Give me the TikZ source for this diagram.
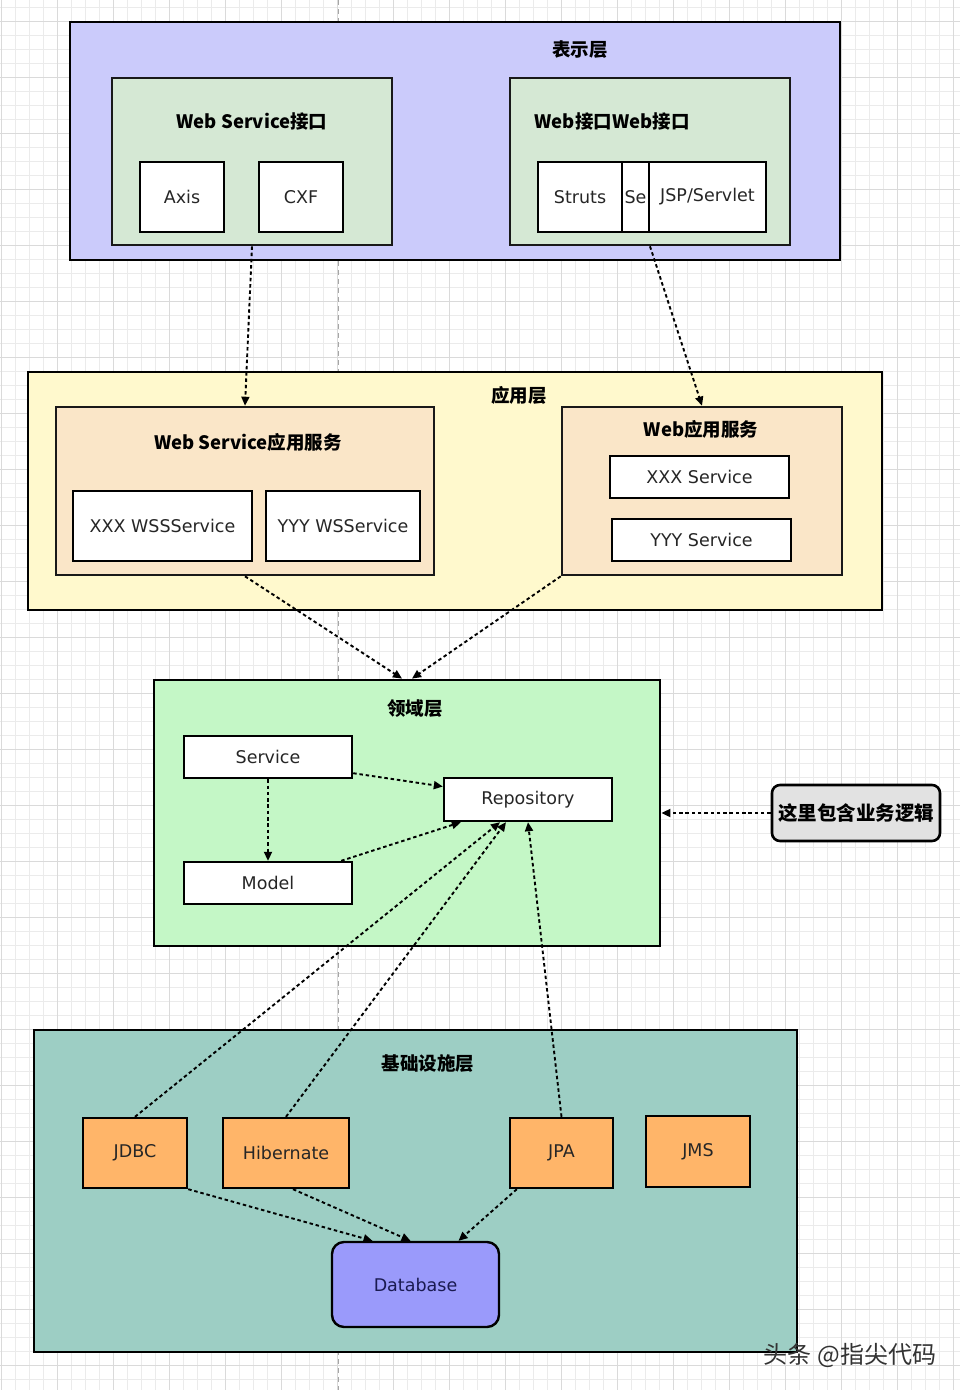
\documentclass[tikz,border=0pt]{standalone}
\usepackage{fontspec}
\setmainfont{DejaVu Sans}
\newfontfamily\cjk{Noto Sans CJK SC}
\usetikzlibrary{arrows.meta}
\definecolor{cpres}{HTML}{CBCBFB}
\definecolor{cinner}{HTML}{D5E8D4}
\definecolor{capp}{HTML}{FFF9CD}
\definecolor{cpeach}{HTML}{FAE6C8}
\definecolor{cdom}{HTML}{C4F7C6}
\definecolor{cinfra}{HTML}{9DCEC4}
\definecolor{corange}{HTML}{FFB569}
\definecolor{cdb}{HTML}{9A9AFB}
\definecolor{cnote}{HTML}{E2E2E2}
\definecolor{gminor}{HTML}{EBEBEB}
\definecolor{gmajor}{HTML}{DADADA}
\definecolor{navy}{HTML}{1A1A50}
\tikzset{
  layer/.style={draw=black, line width=2.8pt, inner sep=0pt},
  sub/.style={draw=black!90, line width=2.6pt, inner sep=0pt},
  item/.style={draw=black, line width=2.4pt, fill=white, inner sep=0pt, text=black!85, font=\fontsize{17.5}{19}\selectfont},
  ttl/.style={inner sep=0pt, font=\cjk\bfseries\fontsize{18.5}{21}\selectfont},
  conn/.style={line width=1.9pt, dash pattern=on 3.5pt off 2.8pt, -{Triangle[length=9pt,width=8pt]}},
}
\begin{document}
\begin{tikzpicture}[x=1pt,y=-1pt]
\useasboundingbox (0,0) rectangle (960,1390);
\fill[white] (0,0) rectangle (960,1390);
% grid
\foreach \i in {0,...,68} \draw[gminor, line width=0.6pt] (1+14*\i,0) -- (1+14*\i,1390);
\foreach \j in {0,...,99} \draw[gminor, line width=0.6pt] (0,7+14*\j) -- (960,7+14*\j);
\foreach \i in {0,...,17} \draw[gmajor, line width=0.8pt] (1+56*\i,0) -- (1+56*\i,1390);
\foreach \j in {0,...,24} \draw[gmajor, line width=0.8pt] (0,21+56*\j) -- (960,21+56*\j);
\draw[gray!70, line width=0.8pt, dash pattern=on 5pt off 4pt] (338,0) -- (338,1390);

% ===== presentation layer
\node[layer, fill=cpres, minimum width=770pt, minimum height=238pt] (pres) at (455,141) {};
\node[ttl] (tpres) at (580,50) {表示层};
\node[sub, fill=cinner, minimum width=280pt, minimum height=167pt] (wsi) at (252,161.5) {};
\node[ttl] (twsi) at (252,121) {Web Service接口};
\node[item, minimum width=84pt, minimum height=70pt] (axis) at (182,197) {Axis};
\node[item, minimum width=84pt, minimum height=70pt] (cxf) at (301,197) {CXF};
\node[sub, fill=cinner, minimum width=280pt, minimum height=167pt] (webi) at (650,161.5) {};
\node[ttl] (twebi) at (612,121) {Web接口Web接口};
\node[item, minimum width=84pt, minimum height=70pt] (struts) at (580,197) {Struts};
\node[item, minimum width=27pt, minimum height=70pt] (se) at (635.5,197) {Se};
\node[item, minimum width=117pt, minimum height=70pt] (jsp) at (707.5,197) {JSP/Servlet};

% ===== application layer
\node[layer, fill=capp, minimum width=854pt, minimum height=238pt] (app) at (455,491) {};
\node[ttl] (tapp) at (519,395) {应用层};
\node[sub, fill=cpeach, minimum width=378pt, minimum height=168pt] (wsapp) at (245,491) {};
\node[ttl] (twsapp) at (248,442) {Web Service应用服务};
\node[item, minimum width=179pt, minimum height=70pt] (xxxws) at (162.5,526) {XXX WSSService};
\node[item, minimum width=154pt, minimum height=70pt] (yyyws) at (343,526) {YYY WSService};
\node[sub, fill=cpeach, minimum width=280pt, minimum height=168pt] (webapp) at (702,491) {};
\node[ttl] (twebapp) at (701,429) {Web应用服务};
\node[item, minimum width=179pt, minimum height=42pt] (xxxs) at (699.5,477) {XXX Service};
\node[item, minimum width=179pt, minimum height=42pt] (yyys) at (701.5,540) {YYY Service};

% ===== domain layer
\node[layer, fill=cdom, minimum width=506pt, minimum height=266pt] (dom) at (407,813) {};
\node[ttl] (tdom) at (415,709) {领域层};
\node[item, minimum width=168pt, minimum height=42pt] (service) at (268,757) {Service};
\node[item, minimum width=168pt, minimum height=43pt] (repo) at (528,799.5) {Repository};
\node[item, minimum width=168pt, minimum height=42pt] (model) at (268,883) {Model};
\node[draw=black, line width=2.6pt, fill=cnote, rounded corners=8pt, inner sep=0pt,
      minimum width=168pt, minimum height=56pt, font=\cjk\bfseries\fontsize{19.5}{22}\selectfont] (note) at (856,813) {这里包含业务逻辑};

% ===== infrastructure layer
\node[layer, fill=cinfra, minimum width=763pt, minimum height=322pt] (infra) at (415.5,1191) {};
\node[ttl] (tinfra) at (428,1064) {基础设施层};
\node[item, fill=corange, minimum width=104pt, minimum height=70pt] (jdbc) at (135,1153) {JDBC};
\node[item, fill=corange, minimum width=126pt, minimum height=70pt] (hib) at (286,1153) {Hibernate};
\node[item, fill=corange, minimum width=103pt, minimum height=70pt] (jpa) at (561.5,1153) {JPA};
\node[item, fill=corange, minimum width=104pt, minimum height=71pt] (jms) at (698,1151.5) {JMS};
\node[item, fill=cdb, text=navy, rounded corners=12pt, minimum width=167pt, minimum height=85pt] (db) at (415.5,1284.5) {Database};

% ===== connectors
\draw[conn] (wsi.south) -- (wsapp.north);
\draw[conn] (webi.south) -- (webapp.north);
\draw[conn] (wsapp.south) -- ([xshift=-5pt]dom.north);
\draw[conn] (webapp.south west) -- ([xshift=5pt]dom.north);
\draw[conn] ([yshift=6pt]service.south east) -- ([yshift=13pt]repo.west);
\draw[conn] (service.south) -- (model.north);
\draw[conn] ([xshift=-12pt]model.north east) -- ([xshift=18pt]repo.south west);
\draw[conn] (jdbc.north) -- ([xshift=-28pt]repo.south);
\draw[conn] (hib.north) -- ([xshift=-22pt]repo.south);
\draw[conn] (jpa.north) -- (repo.south);
\draw[conn] (note.west) -- (dom.east);
\draw[conn] (jdbc.south east) -- ([xshift=-43pt]db.north);
\draw[conn] ([xshift=7pt]hib.south) -- ([xshift=-5pt]db.north);
\draw[conn] ([xshift=8pt]jpa.south west) -- ([xshift=43pt]db.north);

% watermark
\node[inner sep=0pt, text=black!80, font=\cjk\fontsize{24}{26}\selectfont] (wm) at (850,1355) {头条 @指尖代码};
\end{tikzpicture}
\end{document}
